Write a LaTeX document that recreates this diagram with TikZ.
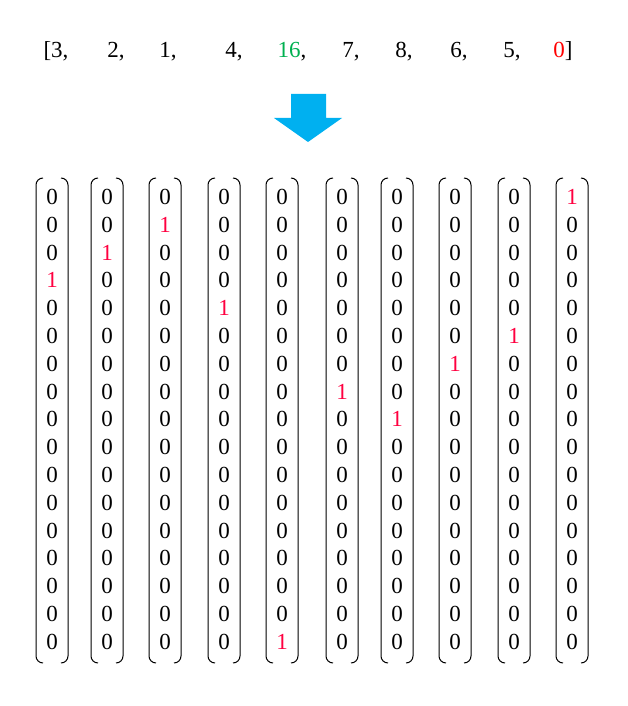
\documentclass[tikz,border=0pt]{standalone}
\usepackage{fontspec}
\setmainfont{Liberation Serif}
\usepackage{xcolor}
\definecolor{hotred}{HTML}{FF0040}
\definecolor{valgreen}{HTML}{00B050}
\definecolor{arrowblue}{HTML}{00B0F0}
\tikzset{
  entry/.style={inner sep=0pt, font=\fontsize{23}{23}\selectfont},
  val/.style={inner sep=0pt, anchor=base, font=\fontsize{23}{23}\selectfont},
  bracket/.style={black, line width=1pt, rounded corners=7pt}
}

\begin{document}
\begin{tikzpicture}[x=1pt,y=-1pt]
\useasboundingbox (0,0) rectangle (628,706);
% input list
\foreach \x/\t [count=\i] in {56/{[3,}, 116/{2,}, 168/{1,}, 234/{4,}, 292/{\textcolor{valgreen}{16},},
  351/{7,}, 404/{8,}, 459/{6,}, 512/{5,}, 563/{\textcolor{red}{0}]}} {
 \node[val] (v\i) at (\x,58) {\t};
}
% arrow
\fill[arrowblue] (291,94) -- (326,94) -- (326,118) -- (342,118) -- (308,142) -- (274,118) -- (291,118) -- cycle;
% one-hot columns
\foreach \x/\h [count=\c] in {52/3, 107/2, 165/1, 224/4, 282/16, 342/7, 397/8, 455/6, 514/5, 572/0} {
 \draw[bracket] (\x-9,178) -- (\x-16,178) -- (\x-16,663) -- (\x-9,663);
 \draw[bracket] (\x+9,178) -- (\x+16,178) -- (\x+16,663) -- (\x+9,663);
 \foreach \r in {0,...,16} {
  \ifnum\r=\h\relax \def\clr{hotred}\def\dig{1}\else \def\clr{black}\def\dig{0}\fi
  \node[entry, text=\clr] (e\c-\r) at (\x,197+27.8*\r) {\dig};
 }
}
\end{tikzpicture}
\end{document}
